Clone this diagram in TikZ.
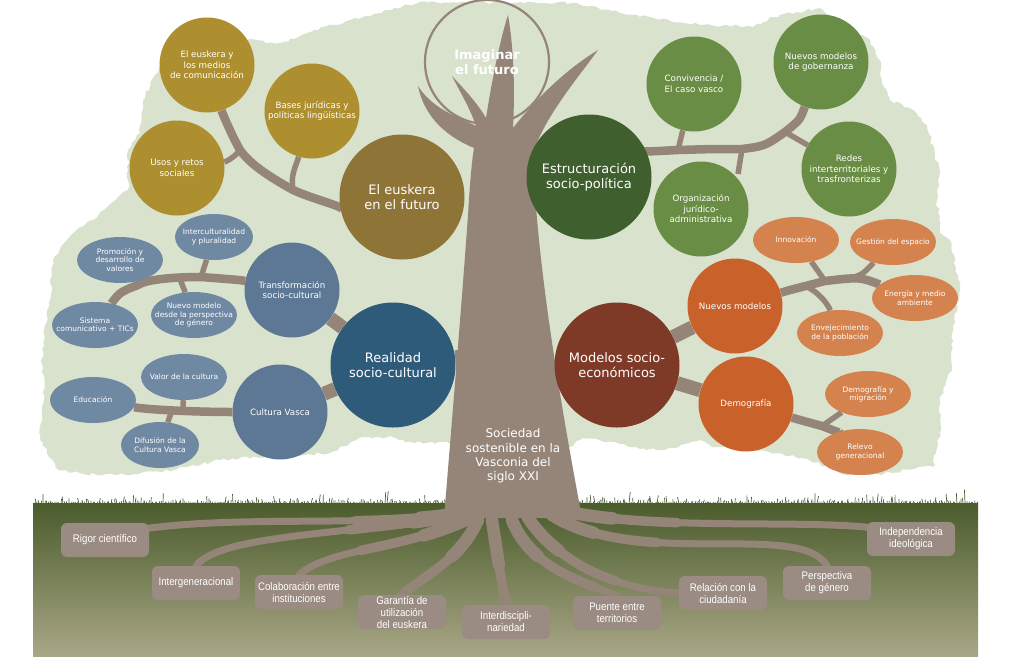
\documentclass[tikz,border=0pt]{standalone}
\usepackage{fontspec}
\setmainfont{DejaVu Sans}
\newfontfamily\rootfont[FakeStretch=0.88]{Liberation Sans}
\usetikzlibrary{positioning}
\usetikzlibrary{shapes.geometric,decorations.pathmorphing,calc}

\definecolor{canopy}{HTML}{D9E2CD}
\definecolor{woodcol}{HTML}{948578}
\definecolor{rootcol}{HTML}{9A8C82}
\definecolor{goldhub}{HTML}{8E7436}
\definecolor{goldtwig}{HTML}{AE8F2F}
\definecolor{greenhub}{HTML}{3F5F2F}
\definecolor{greentwig}{HTML}{6A8D46}
\definecolor{bluehub}{HTML}{2F5B7A}
\definecolor{bluetwig}{HTML}{5C7894}
\definecolor{blueleaf}{HTML}{7089A3}
\definecolor{redhub}{HTML}{7E3A27}
\definecolor{orangetwig}{HTML}{C9612B}
\definecolor{orangeleaf}{HTML}{D4834F}
\definecolor{gtop}{HTML}{4A5C2C}
\definecolor{gmid}{HTML}{6F7549}
\definecolor{gbot}{HTML}{A9A786}
\definecolor{grass}{HTML}{4C5D34}

\pgfdeclarelayer{back}
\pgfdeclarelayer{wood}
\pgfsetlayers{back,wood,main}

\begin{document}
\begin{tikzpicture}[x=1pt, y=-1pt, text=white, align=center,
  hub/.style={circle, minimum size=125pt, inner sep=0pt, font={\fontsize{13}{15}\selectfont}},
  twig/.style={circle, minimum size=95pt, inner sep=0pt, font={\fontsize{8.7}{10.5}\selectfont}},
  leaf/.style={ellipse, minimum width=86pt, minimum height=46pt, inner xsep=-12pt, inner ysep=-6pt, font={\fontsize{7.5}{8.3}\selectfont}},
  rootbox/.style={rounded corners=6pt, minimum width=88pt, minimum height=34pt, inner sep=0pt, fill=rootcol, font={\rootfont\fontsize{11}{12}\selectfont}},
  branch/.style={draw=woodcol, line width=8.5pt},
  stub/.style={draw=woodcol, line width=5.5pt},
  limb/.style={draw=woodcol, line width=14pt}]
\tikzstyle{grassline}=[draw=grass, line width=0.7pt]
\useasboundingbox (0,0) rectangle (1010,665);

% hubs
\node[hub, fill=goldhub]  (eus)  at (402,197) {El euskera\\en el futuro};
\node[hub, fill=greenhub] (est)  at (589,177) {Estructuración\\socio-política};
\node[hub, fill=bluehub]  (real) at (393,365) {Realidad\\socio-cultural};
\node[hub, fill=redhub]   (mod)  at (617,365) {Modelos socio-\\económicos};

% euskera
\node[twig, fill=goldtwig] (medios) at (207,65)  {El euskera y\\los medios\\de comunicación};
\node[twig, fill=goldtwig] (bases)  at (312,111) {Bases jurídicas y\\políticas lingüísticas};
\node[twig, fill=goldtwig] (usos)   at (177,168) {Usos y retos\\sociales};

% estructuracion
\node[twig, fill=greentwig] (conv)  at (694,84)  {Convivencia /\\El caso vasco};
\node[twig, fill=greentwig] (gob)   at (821,62)  {Nuevos modelos\\de gobernanza};
\node[twig, fill=greentwig] (redes) at (849,169) {Redes\\interterritoriales y\\trasfronterizas};
\node[twig, fill=greentwig] (org)   at (701,209) {Organización\\jurídico-\\administrativa};

% realidad
\node[twig, fill=bluetwig] (trans) at (292,290) {Transformación\\socio-cultural};
\node[twig, fill=bluetwig] (cult)  at (280,412) {Cultura Vasca};
\node[leaf, fill=blueleaf, minimum width=78pt] (inter) at (214,237) {Interculturalidad\\y pluralidad};
\node[leaf, fill=blueleaf] (prom)  at (120,260) {Promoción y\\desarrollo de\\valores};
\node[leaf, fill=blueleaf] (sist)  at (95,325)  {Sistema\\comunicativo + TICs};
\node[leaf, fill=blueleaf] (nuevo) at (194,315) {Nuevo modelo\\desde la perspectiva\\de género};
\node[leaf, fill=blueleaf] (valor) at (184,377) {Valor de la cultura};
\node[leaf, fill=blueleaf] (edu)   at (93,400)  {Educación};
\node[leaf, fill=blueleaf, minimum width=78pt] (difu) at (160,445) {Difusión de la\\Cultura Vasca};

% modelos
\node[twig, fill=orangetwig] (nmod) at (735,306) {Nuevos modelos};
\node[twig, fill=orangetwig] (demo) at (746,404) {Demografía};
\node[leaf, fill=orangeleaf] (innov)  at (796,240) {Innovación};
\node[leaf, fill=orangeleaf] (gest)   at (893,242) {Gestión del espacio};
\node[leaf, fill=orangeleaf] (ener)   at (915,298) {Energía y medio\\ambiente};
\node[leaf, fill=orangeleaf] (env)    at (840,333) {Envejecimiento\\de la población};
\node[leaf, fill=orangeleaf] (dmig)   at (868,394) {Demografía y\\migración};
\node[leaf, fill=orangeleaf] (relevo) at (860,452) {Relevo\\generacional};

% trunk texts
\node[font={\fontsize{12}{14.3}\selectfont}] (soc) at (513,456) {Sociedad\\sostenible en la\\Vasconia del\\siglo XXI};
\node[font={\bfseries\fontsize{13}{15}\selectfont}] (imag) at (487,62) {Imaginar\\el futuro};

% roots
\node[rootbox] (rigor)    at (105,540) {Rigor científico};
\node[rootbox] (intergen) at (196,583) {Intergeneracional};
\node[rootbox] (colab)    at (299,592) {Colaboración entre\\instituciones};
\node[rootbox] (garantia) at (402,612) {Garantía de\\utilización\\del euskera};
\node[rootbox] (interd)   at (506,622) {Interdiscipli-\\nariedad};
\node[rootbox] (puente)   at (617,613) {Puente entre\\territorios};
\node[rootbox] (relacion) at (723,593) {Relación con la\\ciudadanía};
\node[rootbox] (persp)    at (827,583) {Perspectiva\\de género};
\node[rootbox] (indep)    at (911,539) {Independencia\\ideológica};

\begin{pgfonlayer}{back}
\fill[white] (0,0) rectangle (1010,665);
% crown
\fill[canopy, decorate, decoration={random steps, segment length=4pt, amplitude=1.5pt}]
  (58,470) -- (40,440) -- (44,400) -- (42,350) -- (50,300) -- (53,260) -- (67,240)
  -- (80,227) -- (93,220) -- (107,207) -- (128,190) -- (128,150) -- (140,133)
  -- (143,100) -- (155,75) -- (170,50) -- (247,40) -- (280,43) -- (307,33)
  -- (350,20) -- (387,10) -- (420,2) -- (577,3) -- (620,13) -- (700,25)
  -- (753,27) -- (773,17) -- (820,8) -- (870,40) -- (880,60) -- (882,80)
  -- (890,100) -- (913,110) -- (927,127) -- (940,173) -- (937,200) -- (940,233)
  -- (950,240) -- (960,287) -- (952,333) -- (952,367) -- (940,400) -- (940,433)
  -- (933,467) -- (919,467) -- (893,473) -- (848,475) -- (809,460) -- (777,453)
  -- (712,447) -- (700,440) -- (673,448) -- (647,450) -- (615,442) -- (583,438)
  -- (570,447) -- (447,442) -- (414,443) -- (388,437) -- (362,437) -- (330,453)
  -- (240,458) -- (220,460) -- (162,472) -- (97,475) -- cycle;
% ground
\shade[top color=gtop, middle color=gmid, bottom color=gbot] (33,503) rectangle (978,656);
\pgfmathsetseed{11}
\foreach \x in {35,37,...,977} {
  \pgfmathsetmacro\h{2+14*rnd*rnd*rnd}
  \pgfmathsetmacro\d{3*rnd-1.5}
  \draw[grassline] (\x,504) -- ++(\d,-\h);
}
\end{pgfonlayer}

\begin{pgfonlayer}{wood}
\draw[woodcol, line width=2.2pt] (imag) circle[radius=62pt];
% trunk
\fill[woodcol] (444,518) .. controls (452,420) and (462,300) .. (468,215)
  .. controls (470,180) and (472,160) .. (474,148)
  .. controls (450,138) and (425,120) .. (418,86)
  .. controls (432,108) and (455,116) .. (476,126)
  .. controls (470,108) and (460,92) .. (452,76)
  .. controls (465,90) and (478,104) .. (486,118)
  .. controls (492,80) and (500,40) .. (508,15)
  .. controls (514,50) and (515,90) .. (513,128)
  .. controls (535,100) and (565,70) .. (598,50)
  .. controls (578,78) and (548,112) .. (533,152)
  .. controls (536,260) and (560,400) .. (582,518) -- cycle;
\coordinate (trunkL) at (470,358);
\coordinate (trunkR) at (545,372);
\draw[limb, line width=18pt] (real) -- (trunkL);
\draw[limb, line width=18pt] (mod) -- (trunkR);
\draw[limb] (real) -- (trans);
\draw[limb] (real) -- (cult);
\draw[limb] (mod) -- (nmod);
\draw[limb] (mod) -- (demo);

% euskera branches
\coordinate (eu-j1) at (293,190);
\coordinate (eu-j2) at (240,150);
\draw[branch] (eus) .. controls (350,208) and (315,200) .. (eu-j1)
  .. controls (268,176) and (250,164) .. (eu-j2) .. controls (230,132) and (222,112) .. (medios);
\draw[stub] (eu-j1) .. controls (290,176) and (296,166) .. (bases);
\draw[stub] (eu-j2) .. controls (234,158) and (225,162) .. (usos);

% estructuracion branches
\coordinate (es-j1) at (678,150);
\coordinate (es-j2) at (742,149);
\coordinate (es-j3) at (785,132);
\draw[branch] (est) .. controls (640,152) .. (es-j1) .. controls (712,149) .. (es-j2)
  .. controls (765,146) .. (es-j3) .. controls (800,120) .. (gob);
\draw[stub] (es-j1) -- (conv);
\draw[stub] (es-j2) -- ++(-4,25);
\draw[stub] (es-j3) -- (redes);

% realidad branches
\coordinate (tr-j1) at (201,277);
\coordinate (tr-j2) at (180,279);
\coordinate (tr-j3) at (138,285);
\draw[branch] (trans) .. controls (240,280) .. (tr-j1) .. controls (170,277) and (145,280) .. (tr-j3)
  .. controls (120,292) .. (sist);
\draw[stub] (tr-j1) -- (inter);
\draw[stub] (tr-j2) -- (nuevo);
\draw[stub] (tr-j3) -- (prom);
\coordinate (cu-j1) at (183,410);
\coordinate (cu-j2) at (172,410);
\draw[branch] (cult) .. controls (200,412) and (150,410) .. (edu);
\draw[stub] (cu-j1) -- (valor);
\draw[stub] (cu-j2) -- (difu);

% modelos branches
\coordinate (nm-j1) at (803,285);
\coordinate (nm-j2) at (825,281);
\coordinate (nm-j3) at (847,279);
\draw[branch] (nmod) .. controls (790,290) .. (nm-j2) .. controls (860,277) .. (ener);
\draw[stub] (nm-j1) .. controls (820,292) and (828,305) .. (env);
\draw[stub] (nm-j2) -- (innov);
\draw[stub] (nm-j3) .. controls (862,275) .. (gest);
\coordinate (dm-j1) at (822,426);
\draw[branch] (demo) .. controls (800,420) .. (dm-j1) .. controls (840,433) .. (relevo);
\draw[stub] (dm-j1) -- (dmig);

% roots
\foreach \p/\q/\r/\t in {{465,512}/{380,528}/{250,515}/rigor.15,
    {458,516}/{340,535}/{220,535}/intergen.north,
    {466,520}/{400,550}/{330,548}/colab.north,
    {478,520}/{460,560}/{425,575}/garantia.north,
    {492,520}/{498,560}/{502,585}/interd.north,
    {512,520}/{530,565}/{575,580}/puente.north,
    {528,518}/{560,565}/{620,590}/relacion.west,
    {552,515}/{640,570}/{800,520}/persp.north,
    {568,512}/{660,530}/{790,520}/indep.165}
  \foreach \w/\l in {7/3000,9.5/110,12.5/45}
    \draw[woodcol, line width=\w pt, line cap=round, dash pattern=on \l pt off 4000pt]
      (\p) .. controls (\q) and (\r) .. (\t);
\end{pgfonlayer}
\end{tikzpicture}
\end{document}
